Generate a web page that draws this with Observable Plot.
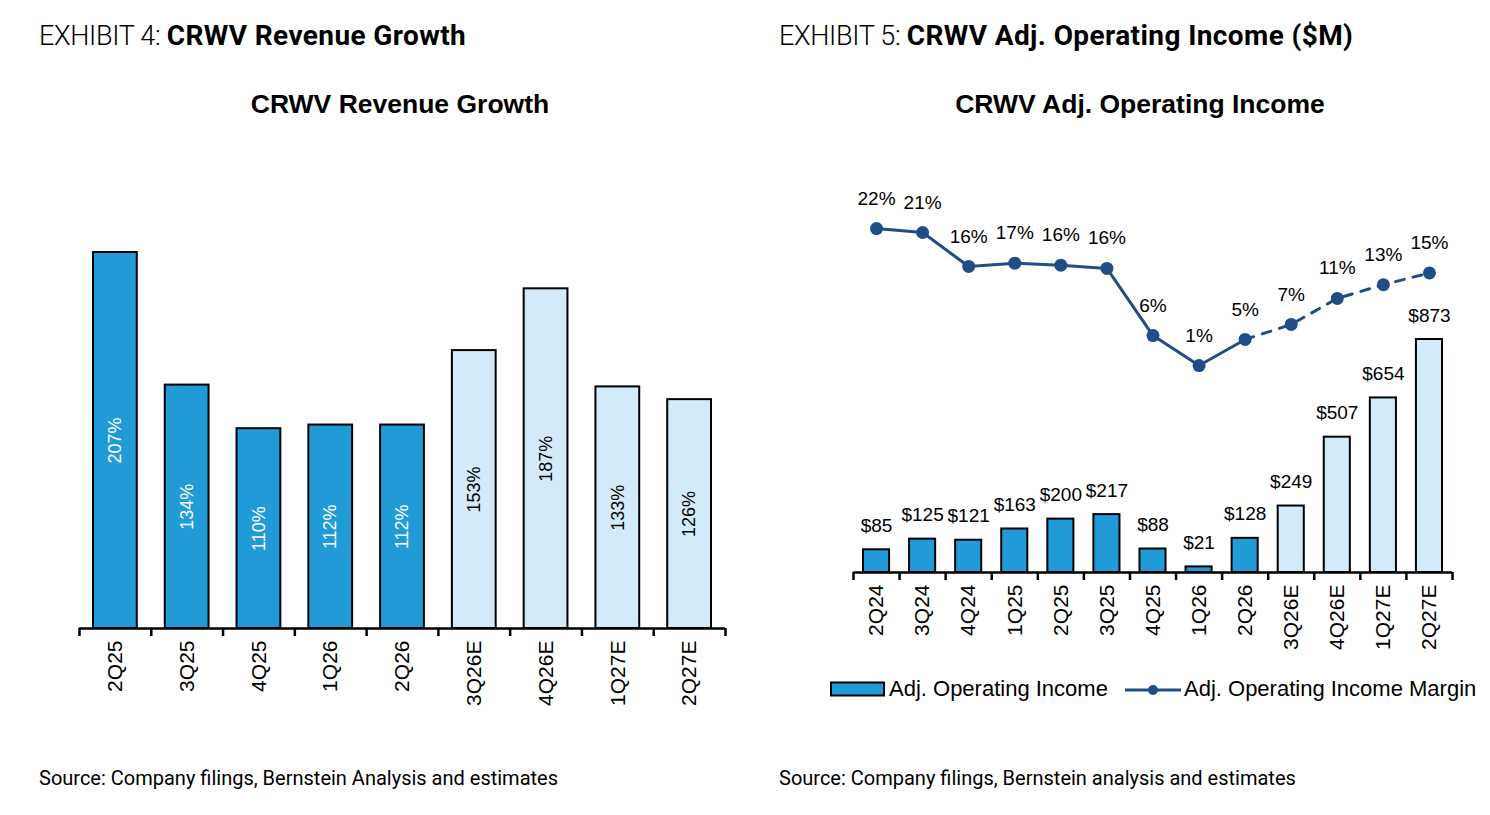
<!DOCTYPE html>
<html><head><meta charset="utf-8">
<script src="https://cdn.jsdelivr.net/npm/d3@7"></script>
<script src="https://cdn.jsdelivr.net/npm/@observablehq/plot@0.6"></script>
<style>
body{margin:0;width:1490px;height:815px;background:#fff;position:relative;overflow:hidden;font-family:"Liberation Sans",Arial,sans-serif;color:#000;}
.hdr{position:absolute;top:19px;font-family:Roboto,sans-serif;font-size:27px;white-space:nowrap;letter-spacing:-0.3px;}
.hdr .l{font-weight:300}
.hdr b{font-weight:700;font-size:28px;letter-spacing:0.4px}
.ttl{position:absolute;top:89px;font-weight:bold;font-size:26.5px;white-space:nowrap;transform:translateX(-50%);}
.src{position:absolute;top:766px;font-family:Roboto,sans-serif;font-size:20px;white-space:nowrap;}
.chart{position:absolute;top:140px}
.leg{position:absolute;top:676px;font-size:22px;white-space:nowrap;}
</style></head><body>
<div class="hdr" style="left:39px"><span class="l">EXHIBIT 4: </span><b>CRWV Revenue Growth</b></div>
<div class="hdr" style="left:779px"><span class="l">EXHIBIT 5: </span><b>CRWV Adj. Operating Income ($M)</b></div>
<div class="ttl" style="left:400px">CRWV Revenue Growth</div>
<div class="ttl" style="left:1140px">CRWV Adj. Operating Income</div>
<div id="left" class="chart" style="left:0px"></div>
<div id="right" class="chart" style="left:745px"></div>
<div class="leg" style="left:830px">
  <svg width="56" height="16" style="vertical-align:-1px"><rect x="1" y="1.5" width="53" height="13" fill="#219bd8" stroke="#000" stroke-width="2"/></svg><span style="margin-left:3px">Adj. Operating Income</span>
</div>
<div class="leg" style="left:1125px">
  <svg width="56" height="16" style="vertical-align:-1px"><line x1="0" x2="56" y1="9" y2="9" stroke="#214d86" stroke-width="3"/><circle cx="28" cy="9" r="5" fill="#214d86"/></svg><span style="margin-left:3px">Adj. Operating Income Margin</span>
</div>
<div class="src" style="left:39px">Source: Company filings, Bernstein Analysis and estimates</div>
<div class="src" style="left:779px">Source: Company filings, Bernstein analysis and estimates</div>
<script>
const blue = "#219bd8";
const light = "#d3eaf8";
const navy = "#214d86";

// Exhibit 4 data
const revQuarters = ["2Q25","3Q25","4Q25","1Q26","2Q26","3Q26E","4Q26E","1Q27E","2Q27E"];
const revGrowth = [207,134,110,112,112,153,187,133,126];

// Exhibit 5 data
const oiQuarters = ["2Q24","3Q24","4Q24","1Q25","2Q25","3Q25","4Q25","1Q26","2Q26","3Q26E","4Q26E","1Q27E","2Q27E"];
const oiValues = [85,125,121,163,200,217,88,21,128,249,507,654,873];
const oiMargin = [22.0,21.4,16.2,16.7,16.4,15.9,5.6,1.0,5.0,7.3,11.3,13.4,15.2];

const revData = revQuarters.map((q,i)=>({q,i,v:revGrowth[i],est:q.endsWith("E")}));
const oiData = oiQuarters.map((q,i)=>({q,i,v:oiValues[i],m:oiMargin[i],est:q.endsWith("E")}));

const style = {fontFamily:"'Liberation Sans', Arial, sans-serif", fontSize:"18px", overflow:"visible", background:"transparent"};

const left = Plot.plot({
  width:745, height:580, marginLeft:79, marginRight:20, marginTop:112, marginBottom:92,
  style,
  x:{domain:[0,9], axis:null, label:null},
  y:{domain:[0,207], axis:null, label:null},
  color:{type:"identity"},
  marks:[
    Plot.rectY(revData,{x1:"i", x2:d=>d.i+1, y:"v", insetLeft:14, insetRight:14, fill:d=>d.est?light:blue, stroke:"#000", strokeWidth:2}),
    Plot.text(revData,{x:d=>d.i+0.5, y:d=>d.v/2, text:d=>d.v+"%", rotate:-90, fill:d=>d.est?"#000":"#fff", fontSize:18}),
    Plot.ruleY([0],{stroke:"#000", strokeWidth:2.5}),
    Plot.axisX({ticks:d3.range(10), tickFormat:()=>"", tickSize:8, strokeWidth:2.5, stroke:"#000", label:null}),
    Plot.axisX({ticks:d3.range(9).map(i=>i+0.5), tickFormat:t=>revQuarters[Math.floor(t)], tickSize:0, tickPadding:12, tickRotate:-90, fontSize:21, fill:"#000", label:null})
  ]
});
document.getElementById("left").append(left);

// secondary scale: margin % expressed in the bar chart's $ units
const marginToY = d3.scaleLinear().domain([0,22]).range([751, 751+24.43*22]);

const right = Plot.plot({
  width:745, height:580, marginLeft:108, marginRight:38, marginTop:199, marginBottom:148,
  style,
  x:{domain:[0,13], axis:null, label:null},
  y:{domain:[0,873], axis:null, label:null},
  color:{type:"identity"},
  marks:[
    Plot.rectY(oiData,{x1:"i", x2:d=>d.i+1, y:"v", insetLeft:10, insetRight:10, fill:d=>d.est?light:blue, stroke:"#000", strokeWidth:2}),
    Plot.text(oiData,{x:d=>d.i+0.5, y:"v", text:d=>"$"+d.v, dy:-24, fontSize:19, fill:"#000"}),
    Plot.ruleY([0],{stroke:"#000", strokeWidth:2.5}),
    Plot.axisX({ticks:d3.range(14), tickFormat:()=>"", tickSize:8, strokeWidth:2.5, stroke:"#000", label:null}),
    Plot.axisX({ticks:d3.range(13).map(i=>i+0.5), tickFormat:t=>oiQuarters[Math.floor(t)], tickSize:0, tickPadding:12, tickRotate:-90, fontSize:21, fill:"#000", label:null}),
    Plot.line(oiData.filter(d=>d.i<=8),{x:d=>d.i+0.5, y:d=>marginToY(d.m), stroke:navy, strokeWidth:3}),
    Plot.line(oiData.filter(d=>d.i>=8),{x:d=>d.i+0.5, y:d=>marginToY(d.m), stroke:navy, strokeWidth:3, strokeDasharray:"9,9"}),
    Plot.dot(oiData,{x:d=>d.i+0.5, y:d=>marginToY(d.m), r:6.5, fill:navy}),
    Plot.text(oiData,{x:d=>d.i+0.5, y:d=>marginToY(d.m), text:d=>Math.round(d.m)+"%", dy:-30, fontSize:19, fill:"#000"})
  ]
});
document.getElementById("right").append(right);
</script>
</body></html>
